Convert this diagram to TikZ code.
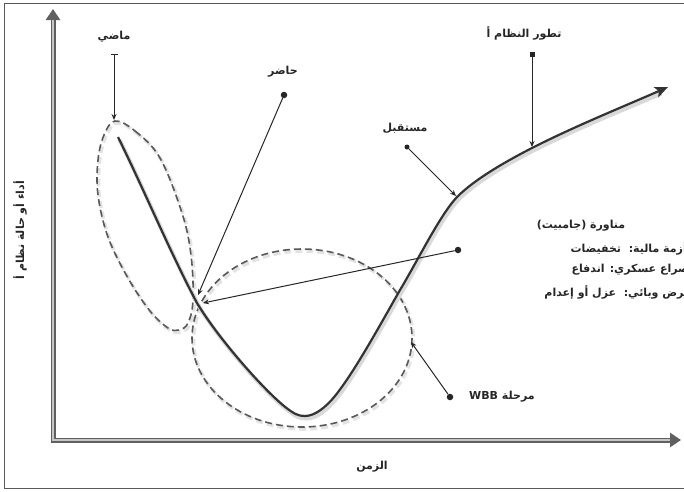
\documentclass[tikz,border=0pt]{standalone}
\usepackage{fontspec}
\usetikzlibrary{arrows.meta}
\newfontfamily\arabicfont[Script=Arabic]{DejaVu Sans}
\TeXXeTstate=1
\begin{document}
\begin{tikzpicture}[x=1pt,y=-1pt,
  lbl/.style={font=\arabicfont\bfseries\fontsize{11}{13}\selectfont, inner sep=1pt, text=black!85},
  conn/.style={line width=1pt, black!85, -{Stealth[length=6pt,width=5pt]}},
  dot/.style={circle, fill=black!85, inner sep=0pt, minimum size=6.5pt},
  sqdot/.style={rectangle, fill=black!85, inner sep=0pt, minimum size=5pt},
  axisline/.style={line width=5pt, gray!75!black, line join=miter},
  dashloop/.style={gray!70!black, line width=1.6pt, dash pattern=on 7pt off 4pt},
  dashshadow/.style={gray!22, line width=3.5pt, dash pattern=on 7pt off 4pt},
  mainc/.style={line width=2.2pt, black!80},
  mainshadow/.style={line width=4pt, gray!30}
]
\useasboundingbox (0,0) rectangle (684,491);
\fill[white] (0,0) rectangle (684,491);
% frame
\draw[gray!70!black, line width=0.8pt] (4,3) rectangle (690,488);

% axes
\draw[axisline, {Triangle[length=11pt,width=14pt]}-{Triangle[length=11pt,width=14pt]}] (53,9) -- (53,440) -- (681,440);
\draw[gray!45, line width=1.4pt, line join=miter] (53,20) -- (53,440) -- (670,440);

% dashed loops (shadows then lines)
\begin{scope}[shift={(1.5,2)}]
\draw[dashshadow] plot[smooth cycle, tension=0.6] coordinates {(115,121) (135,131) (160,158) (182,213) (191,255) (193,300) (188,323) (179,330) (168,328) (150,311) (128,278) (108,237) (98,195) (98,160) (104,135)};
\draw[dashshadow] (302,338) ellipse [x radius=110, y radius=89];
\end{scope}
\draw[dashloop] plot[smooth cycle, tension=0.6] coordinates {(115,121) (135,131) (160,158) (182,213) (191,255) (193,300) (188,323) (179,330) (168,328) (150,311) (128,278) (108,237) (98,195) (98,160) (104,135)};
\draw[dashloop] (302,338) ellipse [x radius=110, y radius=89];

% main curve
\begin{scope}[shift={(1.5,2.5)}]
\draw[mainshadow] (118,137) .. controls (145,192) and (170,252) .. (197,303)
  .. controls (218,338) and (262,388) .. (284,406)
  .. controls (294,414) and (298,416) .. (305,416)
  .. controls (315,416) and (326,407) .. (335,396)
  .. controls (355,371) and (380,325) .. (400,290)
  .. controls (418,260) and (440,215) .. (457,197)
  .. controls (475,179) and (505,162) .. (530,149)
  .. controls (575,126) and (620,108) .. (660,91);
\end{scope}
\draw[mainc, -{Stealth[length=13pt,width=11pt,inset=3pt]}] (118,137) .. controls (145,192) and (170,252) .. (197,303)
  .. controls (218,338) and (262,388) .. (284,406)
  .. controls (294,414) and (298,416) .. (305,416)
  .. controls (315,416) and (326,407) .. (335,396)
  .. controls (355,371) and (380,325) .. (400,290)
  .. controls (418,260) and (440,215) .. (457,197)
  .. controls (475,179) and (505,162) .. (530,149)
  .. controls (575,126) and (625,106) .. (668,87);

% labels
\node[lbl] (lpast) at (114,37) {\beginR ماضي\endR};
\node[lbl] (lpres) at (283,72) {\beginR حاضر\endR};
\node[lbl] (levo) at (524,33) {\beginR تطور النظام أ\endR};
\node[lbl] (lfut) at (405,128) {\beginR مستقبل\endR};
\node[lbl, anchor=west] (lwbb) at (468,397) {\beginR مرحلة \beginL WBB\endL\endR};
\node[lbl] (xlab) at (372,467) {\beginR الزمن\endR};
\node[lbl, rotate=90] (ylab) at (20,230) {\beginR أداء أو حالة نظام أ\endR};

\node[lbl] (g1) at (581,226) {\beginR مناورة (جامبيت)\endR};
\node[lbl, anchor=east] (g2) at (688,248) {\beginR أزمة مالية:~~تخفيضات\endR};
\node[lbl, anchor=east] (g3) at (690,270) {\beginR صراع عسكري: اندفاع\endR};
\node[lbl, anchor=east] (g4) at (692,292) {\beginR مرض وبائي:~~عزل أو إعدام\endR};

% dots and targets
\node[dot] (dpres) at (284,95) {};
\node[dot] (dcross) at (458,250) {};
\node[sqdot] (devo) at (532,54) {};
\node[dot, minimum size=5pt] (dfut) at (407,147) {};
\node[dot] (dwbb) at (450,397) {};
\coordinate (pastTop) at (114,54);
\coordinate (pastTip) at (114,120);
\coordinate (presTip) at (198,295);
\coordinate (crossTip) at (203,303);
\coordinate (evoTip) at (532,147);
\coordinate (futTip) at (456,196);
\coordinate (wbbTip) at (411,342);

% connectors
\draw[conn, {Bar[width=7pt]}-{Stealth[length=6pt,width=5pt]}] (pastTop) -- (pastTip);
\draw[conn] (dpres) -- (presTip);
\draw[conn] (dcross) -- (crossTip);
\draw[conn] (devo) -- (evoTip);
\draw[conn] (dfut) -- (futTip);
\draw[conn] (dwbb) -- (wbbTip);
\end{tikzpicture}
\end{document}
